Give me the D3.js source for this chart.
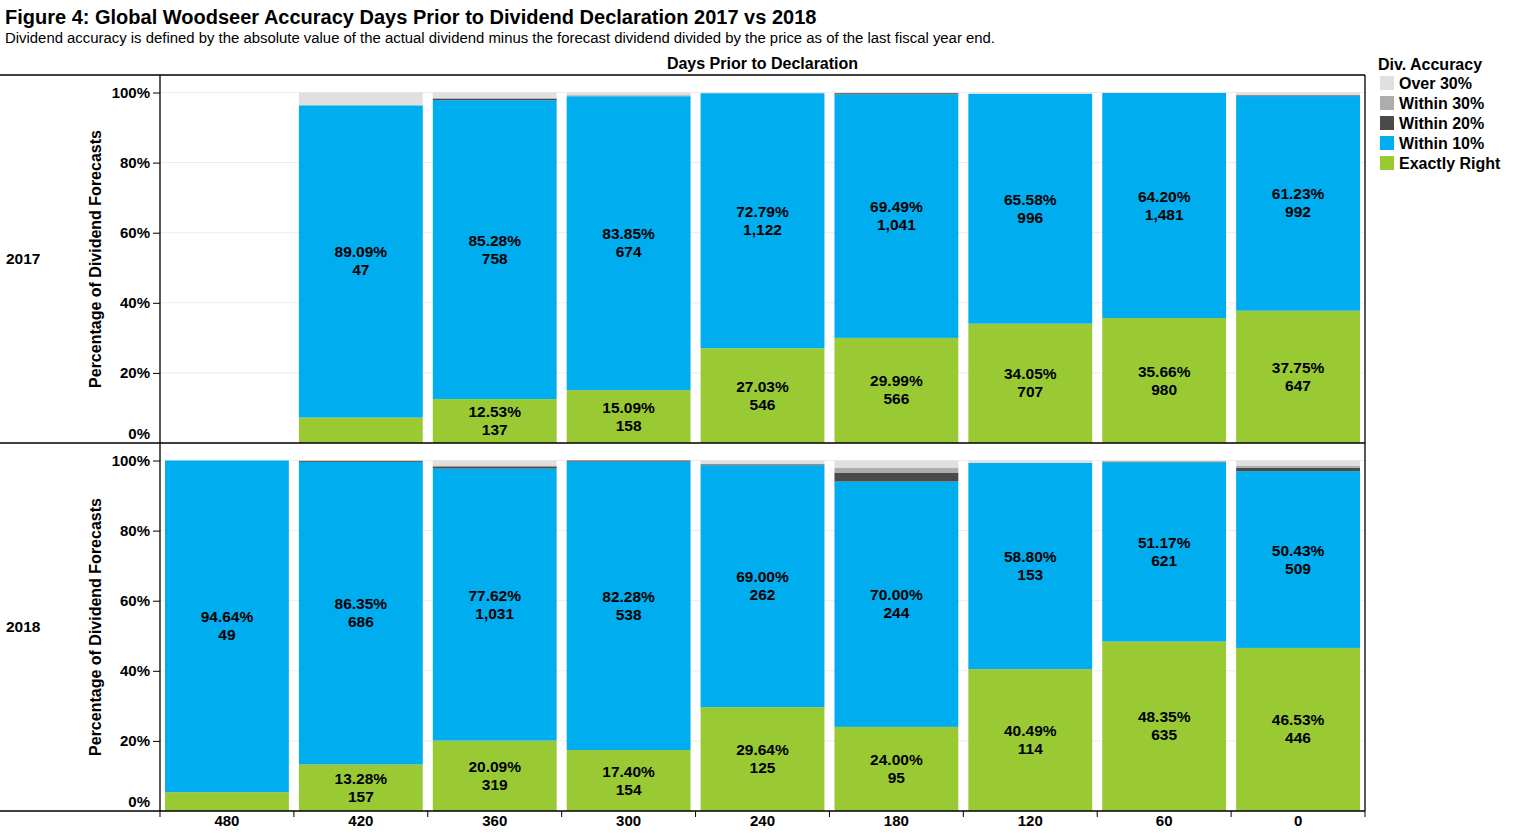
<!DOCTYPE html>
<html>
<head>
<meta charset="utf-8">
<script src="https://cdn.jsdelivr.net/npm/d3@7"></script>
<style>
  body { margin: 0; background: #fff; }
  text { font-family: Arial, "Liberation Sans", sans-serif; fill: #000; }
</style>
</head>
<body>
<svg id="chart" width="1517" height="833"></svg>
<script>

// days prior to declaration (columns) and the two rows
var days = ["480", "420", "360", "300", "240", "180", "120", "60", "0"];
var years = ["2017", "2018"];

// stack order, bottom to top
var categories = ["Exactly Right", "Within 10%", "Within 20%", "Within 30%", "Over 30%"];
var catColors = ["#9aca33", "#00adef", "#4a4a4a", "#adadad", "#e0e0e0"];

// percentages, 2017 (no data at 480)
var exact2017    = [null, 7.27, 12.53, 15.09, 27.03, 29.99, 34.05, 35.66, 37.75];
var within10_2017 = [null, 89.09, 85.28, 83.85, 72.79, 69.49, 65.58, 64.20, 61.23];
var within20_2017 = [null, 0, 0.39, 0, 0, 0.35, 0, 0, 0.22];
var within30_2017 = [null, 0, 0.30, 0.30, 0, 0, 0, 0, 0.10];
var over30_2017   = [null, 3.64, 1.50, 0.76, 0.18, 0.17, 0.37, 0.14, 0.70];

// percentages, 2018
var exact2018    = [5.36, 13.28, 20.09, 17.40, 29.64, 24.00, 40.49, 48.35, 46.53];
var within10_2018 = [94.64, 86.35, 77.62, 82.28, 69.00, 70.00, 58.80, 51.17, 50.43];
var within20_2018 = [0, 0.30, 0.59, 0.32, 0.30, 2.57, 0, 0.18, 1.00];
var within30_2018 = [0, 0, 0.30, 0, 0, 1.43, 0, 0.10, 0.60];
var over30_2018   = [0, 0.07, 1.40, 0, 1.06, 2.00, 0.71, 0.20, 1.44];

// forecast counts shown in the labels
var exactCount2017 = [null, 4, 137, 158, 546, 566, 707, 980, 647];
var within10Count2017 = [null, 47, 758, 674, 1122, 1041, 996, 1481, 992];
var exactCount2018 = [3, 157, 319, 154, 125, 95, 114, 635, 446];
var within10Count2018 = [49, 686, 1031, 538, 262, 244, 153, 621, 509];

var yTicks = [0, 20, 40, 60, 80, 100];

var seriesByYear = {
  "2017": [exact2017, within10_2017, within20_2017, within30_2017, over30_2017],
  "2018": [exact2018, within10_2018, within20_2018, within30_2018, over30_2018]
};
var countsByYear = {
  "2017": [exactCount2017, within10Count2017],
  "2018": [exactCount2018, within10Count2018]
};

var svg = d3.select("#chart");
var fmt = d3.format(",");

var plotLeft = 160, plotRight = 1365;
var panelTops = [75, 443], panelBottoms = [443, 811];

var x = d3.scaleBand()
  .domain(days)
  .range([plotLeft, plotRight])
  .paddingInner(0.075)
  .paddingOuter(0.0375);

// title and subtitle
svg.append("text")
  .attr("x", 5).attr("y", 24)
  .style("font-size", "20px").style("font-weight", "bold")
  .text("Figure 4: Global Woodseer Accuracy Days Prior to Dividend Declaration 2017 vs 2018");
svg.append("text")
  .attr("x", 5).attr("y", 43)
  .style("font-size", "14.9px")
  .text("Dividend accuracy is defined by the absolute value of the actual dividend minus the forecast dividend divided by the price as of the last fiscal year end.");

// column header
svg.append("text")
  .attr("x", (plotLeft + plotRight) / 2).attr("y", 69)
  .attr("text-anchor", "middle")
  .style("font-size", "16px").style("font-weight", "bold")
  .text("Days Prior to Declaration");

years.forEach(function(year, r) {
  var y = d3.scaleLinear().domain([0, 105]).range([panelBottoms[r], panelTops[r]]);
  var g = svg.append("g");

  // gridlines
  g.selectAll(".grid").data(yTicks).enter().append("line")
    .attr("x1", plotLeft).attr("x2", plotRight)
    .attr("y1", function(d) { return y(d); })
    .attr("y2", function(d) { return y(d); })
    .attr("stroke", "#ebebeb").attr("stroke-width", 1);

  // stack the categories
  var rows = days.map(function(d, i) {
    var obj = { day: d };
    categories.forEach(function(c, k) { obj[c] = seriesByYear[year][k][i] || 0; });
    obj.empty = seriesByYear[year][0][i] === null;
    return obj;
  });
  var stacked = d3.stack().keys(categories)(rows);

  stacked.forEach(function(layer, k) {
    g.selectAll(".seg" + k).data(layer.filter(function(s) { return !s.data.empty && s[1] - s[0] > 0; }))
      .enter().append("rect")
      .attr("x", function(s) { return x(s.data.day); })
      .attr("width", x.bandwidth())
      .attr("y", function(s) { return y(s[1]); })
      .attr("height", function(s) { return y(s[0]) - y(s[1]); })
      .attr("fill", catColors[k]);
  });

  // labels for Exactly Right and Within 10%
  [0, 1].forEach(function(k) {
    var layer = stacked[k];
    layer.forEach(function(s, i) {
      var pct = seriesByYear[year][k][i];
      if (pct === null || pct < 10) return;
      var cx = x(s.data.day) + x.bandwidth() / 2;
      var cy = (y(s[0]) + y(s[1])) / 2;
      var t = g.append("text")
        .attr("x", cx).attr("text-anchor", "middle")
        .style("font-size", "15.5px").style("font-weight", "bold");
      t.append("tspan").attr("x", cx).attr("y", cy - 4).text(pct.toFixed(2) + "%");
      t.append("tspan").attr("x", cx).attr("y", cy + 14).text(fmt(countsByYear[year][k][i]));
    });
  });

  // y axis
  var axis = g.append("g")
    .attr("transform", "translate(" + plotLeft + ",0)")
    .call(d3.axisLeft(y).tickValues(yTicks).tickSize(7).tickPadding(3)
      .tickFormat(function(d) { return d + "%"; }));
  axis.select(".domain").remove();
  axis.selectAll(".tick line").attr("stroke", "#000");
  axis.selectAll(".tick text")
    .style("font-size", "15px").style("font-weight", "bold")
    .attr("dy", function(d) { return d === 0 ? "-0.3em" : "0.32em"; });
  axis.selectAll(".tick").filter(function(d) { return d === 0; }).select("line").remove();

  // axis title
  var midY = (panelTops[r] + panelBottoms[r]) / 2;
  g.append("text")
    .attr("transform", "translate(101," + midY + ") rotate(-90)")
    .attr("text-anchor", "middle")
    .style("font-size", "16px").style("font-weight", "bold")
    .text("Percentage of Dividend Forecasts");

  // row header
  g.append("text")
    .attr("x", 6).attr("y", midY + 5)
    .style("font-size", "15.5px").style("font-weight", "bold")
    .text(year);
});

// frame lines
var frame = svg.append("g").attr("stroke", "#000").attr("stroke-width", 1.3);
frame.append("line").attr("x1", 0).attr("x2", plotRight).attr("y1", 75).attr("y2", 75);
frame.append("line").attr("x1", 0).attr("x2", plotRight).attr("y1", 443).attr("y2", 443);
frame.append("line").attr("x1", 0).attr("x2", plotRight).attr("y1", 811).attr("y2", 811);
frame.append("line").attr("x1", plotLeft).attr("x2", plotLeft).attr("y1", 75).attr("y2", 811);
frame.append("line").attr("x1", plotRight).attr("x2", plotRight).attr("y1", 75).attr("y2", 811);

// x axis
var xAxis = svg.append("g")
  .attr("transform", "translate(0,811)")
  .call(d3.axisBottom(x).tickSize(0).tickPadding(4));
xAxis.select(".domain").remove();
xAxis.selectAll(".tick text").style("font-size", "15px").style("font-weight", "bold").attr("dy", "0.71em");
var bounds = d3.range(days.length + 1).map(function(i) { return plotLeft + i * x.step(); });
svg.append("g").selectAll("line").data(bounds).enter().append("line")
  .attr("x1", function(d) { return d; }).attr("x2", function(d) { return d; })
  .attr("y1", 811).attr("y2", 817)
  .attr("stroke", "#000");

// legend
var legend = svg.append("g").attr("transform", "translate(1378,0)");
legend.append("text").attr("x", 0).attr("y", 70)
  .style("font-size", "16px").style("font-weight", "bold").text("Div. Accuracy");
var legendOrder = categories.slice().reverse();
var legendColors = catColors.slice().reverse();
legendOrder.forEach(function(c, i) {
  legend.append("rect").attr("x", 2).attr("y", 76 + i * 20).attr("width", 14).attr("height", 14)
    .attr("fill", legendColors[i]);
  legend.append("text").attr("x", 21).attr("y", 89 + i * 20)
    .style("font-size", "16px").style("font-weight", "bold").text(c);
});

</script>
</body>
</html>
